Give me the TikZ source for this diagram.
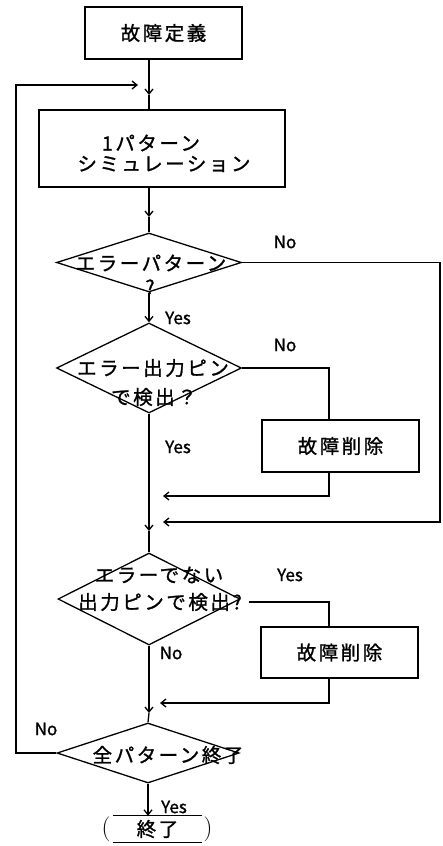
\documentclass[tikz,border=0pt]{standalone}
\usepackage{fontspec}
\usetikzlibrary{shapes.geometric,arrows.meta}
\newfontfamily\cjk[LetterSpace=13,FakeBold=1.2]{Noto Sans CJK JP}
\newfontfamily\cjkplain[FakeBold=1.2]{Noto Sans CJK JP}
\begin{document}
\begin{tikzpicture}[x=1pt,y=-1pt,
  flow/.style={line width=1.3pt},
  arr/.style={flow,-{Straight Barb[length=5pt,width=8pt]}},
  box/.style={draw,line width=1.3pt,inner sep=0pt,font=\cjk\fontsize{19.5}{23}\selectfont},
  dec/.style={draw,diamond,line width=1.3pt,inner sep=0pt},
  jp/.style={inner sep=0pt,font=\cjk\fontsize{19.5}{23}\selectfont},
  yn/.style={inner sep=0pt,font=\cjkplain\fontsize{17}{19}\selectfont},
  paren/.style={inner sep=0pt,font=\fontsize{25}{27}\selectfont}]
\useasboundingbox (0,0) rectangle (442,846);
% helper coordinates
\coordinate (col) at (149,0);
\coordinate (rx) at (440,0);
\coordinate (mx) at (329,0);
\coordinate (lx) at (16,0);
\coordinate (lt) at (138,85);
\coordinate (a1) at (149,95);
\coordinate (a2) at (149,217);
\coordinate (a3) at (149,531);
\coordinate (a4) at (149,713);
\coordinate (j1) at (163,522);
\coordinate (j2) at (163,496);
\coordinate (j3) at (160,703);
\coordinate (s3) at (249,602);
% boxes
\node[box,minimum width=157,minimum height=52] (b1) at (163.5,33) {故障定義};
\node[box,minimum width=246,minimum height=77] (b2) at (162,148.5) {};
\node[jp] (t2a) at (151,143) {1パターン};
\node[jp] (t2b) at (164,164) {シミュレーション};
\node[box,minimum width=157,minimum height=52] (b3) at (340.5,446) {故障削除};
\node[box,minimum width=157,minimum height=51] (b4) at (339.5,652.5) {故障削除};
% decisions
\node[dec,minimum width=185,minimum height=59] (d1) at (149,262.5) {};
\node[jp] (t1a) at (151,263) {エラーパターン};
\node[jp] (t1b) at (150,287) {?};
\node[dec,minimum width=185,minimum height=90] (d2) at (149,368) {};
\node[jp] (t2c) at (153,368) {エラー出力ピン};
\node[jp] (t2d) at (154,397) {で検出？};
\node[dec,minimum width=182,minimum height=92] (d3) at (149,599) {};
\node[jp] (t3a) at (159,575) {エラーでない};
\node[jp] (t3b) at (160,602) {出力ピンで検出?};
\node[dec,minimum width=182,minimum height=60] (d4) at (148,753) {};
\node[jp] (t4) at (168,755) {全パターン終了};
% terminal
\node[jp,minimum width=89,minimum height=26] (fin) at (157.5,829) {終了};
\draw[flow] (fin.north west) -- (fin.north east);
\draw[flow] (fin.south west) -- (fin.south east);
\node[paren] (lp) at (106,829) {(};
\node[paren] (rp) at (208,829) {)};
% labels
\node[yn] (n1) at (285,242) {No};
\node[yn] (y1) at (178,318) {Yes};
\node[yn] (n2) at (285,345) {No};
\node[yn] (y2) at (178,447) {Yes};
\node[yn] (y3) at (290,575) {Yes};
\node[yn] (n3) at (171,653) {No};
\node[yn] (n4) at (46,729) {No};
\node[yn] (y4) at (174,807) {Yes};
% main flow
\draw[arr] (b1.south -| col) -- (a1);
\draw[flow] (a1) -- (b2.north -| col);
\draw[arr] (b2.south -| col) -- (a2);
\draw[flow] (a2) -- (d1.north);
\draw[arr] (d1.south) -- (d2.north);
\draw[arr] (d2.south) -- (a3);
\draw[flow] (a3) -- (d3.north);
\draw[arr] (d3.south) -- (a4);
\draw[flow] (a4) -- (d4.north);
\draw[arr] (d4.south) -- (d4.south |- fin.north);
% loop back
\draw[arr] (d4.west) -- (d4.west -| lx) -- (lt -| lx) -- (lt);
% branches
\draw[arr] (d1.east) -- (d1.east -| rx) -- (j1 -| rx) -- (j1);
\draw[flow] (d2.east) -- (d2.east -| mx) -- (b3.north -| mx);
\draw[arr] (b3.south -| mx) -- (j2 -| mx) -- (j2);
\draw[flow] (s3) -- (s3 -| mx) -- (b4.north -| mx);
\draw[arr] (b4.south -| mx) -- (j3 -| mx) -- (j3);
\end{tikzpicture}
\end{document}
